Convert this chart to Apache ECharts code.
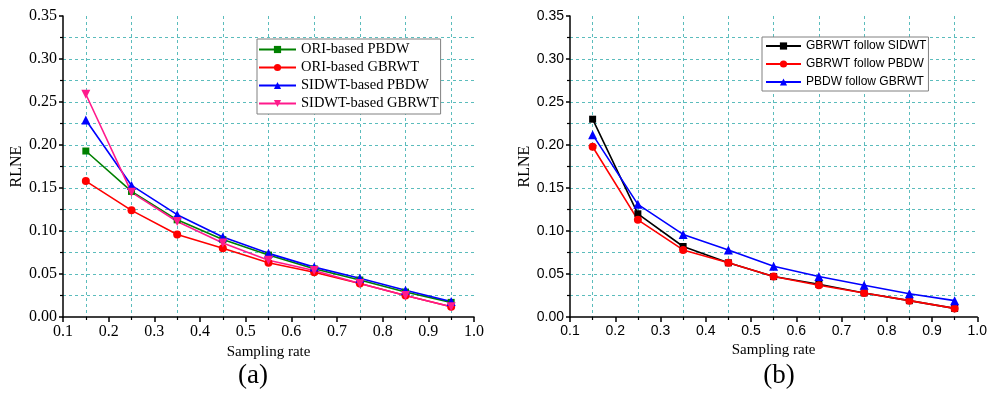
<!DOCTYPE html>
<html style="height: 100%">
  <head>
    <meta charset="utf-8" />
    <title>RLNE vs sampling rate</title>
  </head>
  <body style="height: 100%; margin: 0; background: #fff">
    <div id="container" style="width: 990px; height: 399px"></div>

    <script
      type="text/javascript"
      src="https://fastly.jsdelivr.net/npm/echarts@6/dist/echarts.min.js"
    ></script>

    <script type="text/javascript">
      // sampling rates (x) shared by both panels
      var rates = [0.15, 0.25, 0.35, 0.45, 0.55, 0.65, 0.75, 0.85, 0.95];

      // panel (a)
      var oriPbdw = [0.193, 0.146, 0.113, 0.090, 0.072, 0.056, 0.043, 0.029, 0.017];
      var oriGbrwt = [0.158, 0.124, 0.096, 0.080, 0.063, 0.052, 0.039, 0.025, 0.012];
      var sidwtPbdw = [0.229, 0.153, 0.119, 0.093, 0.074, 0.058, 0.045, 0.031, 0.018];
      var sidwtGbrwt = [0.259, 0.145, 0.111, 0.086, 0.066, 0.054, 0.039, 0.025, 0.012];

      // panel (b)
      var gbFollowSid = [0.230, 0.120, 0.082, 0.063, 0.047, 0.038, 0.028, 0.019, 0.010];
      var gbFollowPb = [0.198, 0.113, 0.078, 0.063, 0.047, 0.037, 0.028, 0.019, 0.010];
      var pbFollowGb = [0.212, 0.131, 0.096, 0.078, 0.059, 0.047, 0.037, 0.027, 0.019];

      var SERIF = "Liberation Serif";
      var SANS = "Liberation Sans";
      var GRIDCOL = "#5bbcbc";

      function pairs(ys) {
        return rates.map(function (x, i) {
          return [x, ys[i]];
        });
      }

      function xAxisFor(idx, font, size) {
        return {
          type: "value",
          gridIndex: idx,
          min: 0.1,
          max: 1.0,
          interval: 0.1,
          name: "Sampling rate",
          nameLocation: "middle",
          nameGap: 25,
          nameTextStyle: { fontFamily: SERIF, fontSize: 15, color: "#000" },
          axisLine: { show: true, onZero: false, lineStyle: { color: "#000", width: 1.5 } },
          axisTick: { show: true, inside: false, length: 5, lineStyle: { color: "#000", width: 1.5 } },
          minorTick: { show: true, splitNumber: 2, length: 3, lineStyle: { color: "#000", width: 1.2 } },
          axisLabel: {
            margin: 7,
            fontFamily: font,
            fontSize: size,
            color: "#000",
            formatter: function (v) {
              return v.toFixed(1);
            },
          },
          splitLine: { show: false },
          minorSplitLine: { show: true, lineStyle: { color: GRIDCOL, type: [3, 3], width: 1 } },
        };
      }

      function yAxisFor(idx, font, size, gap) {
        return {
          type: "value",
          gridIndex: idx,
          min: 0,
          max: 0.35,
          interval: 0.05,
          name: "RLNE",
          nameLocation: "middle",
          nameGap: gap,
          nameTextStyle: { fontFamily: SERIF, fontSize: 16, color: "#000" },
          axisLine: { show: true, onZero: false, lineStyle: { color: "#000", width: 1.5 } },
          axisTick: { show: true, inside: false, length: 4, lineStyle: { color: "#000", width: 1.5 } },
          minorTick: { show: true, splitNumber: 2, length: 3, lineStyle: { color: "#000", width: 1.2 } },
          axisLabel: {
            margin: 6,
            fontFamily: font,
            fontSize: size,
            color: "#000",
            formatter: function (v) {
              return v.toFixed(2);
            },
          },
          splitLine: {
            show: true,
            showMinLine: false,
            showMaxLine: false,
            lineStyle: { color: GRIDCOL, type: [3, 3], width: 1 },
          },
          minorSplitLine: { show: true, lineStyle: { color: GRIDCOL, type: [3, 3], width: 1 } },
        };
      }

      function line(name, ys, color, symbol, size, idx) {
        return {
          name: name,
          type: "line",
          xAxisIndex: idx,
          yAxisIndex: idx,
          data: pairs(ys),
          symbol: symbol,
          symbolSize: size,
          showAllSymbol: true,
          color: color,
          lineStyle: { color: color, width: 1.6 },
          itemStyle: { color: color },
          animation: false,
        };
      }

      var dom = document.getElementById("container");
      var myChart = echarts.init(dom, null, { renderer: "canvas" });

      var option = {
        backgroundColor: "#fff",
        animation: false,
        title: [
          {
            text: "(a)",
            left: 253,
            top: 362,
            textAlign: "center",
            padding: 0,
            textStyle: { fontFamily: SERIF, fontSize: 27, fontWeight: "normal", color: "#000" },
          },
          {
            text: "(b)",
            left: 779,
            top: 362,
            textAlign: "center",
            padding: 0,
            textStyle: { fontFamily: SERIF, fontSize: 27, fontWeight: "normal", color: "#000" },
          },
        ],
        grid: [
          { left: 63, right: 516, top: 16, bottom: 82 },
          { left: 570, right: 11, top: 16, bottom: 82 },
        ],
        xAxis: [xAxisFor(0, SERIF, 16), xAxisFor(1, SANS, 14)],
        yAxis: [yAxisFor(0, SERIF, 16, 38), yAxisFor(1, SANS, 14, 37)],
        legend: [
          {
            orient: "vertical",
            left: 257,
            top: 39,
            padding: [3, 2, 3, 1],
            itemWidth: 37,
            itemHeight: 9,
            itemGap: 3,
            itemTextGap: 3,
            borderColor: "#808080",
            borderWidth: 1,
            backgroundColor: "#fff",
            textStyle: { fontFamily: SERIF, fontSize: 14.5, lineHeight: 14, color: "#000" },
            data: ["ORI-based PBDW", "ORI-based GBRWT", "SIDWT-based PBDW", "SIDWT-based GBRWT"],
          },
          {
            orient: "vertical",
            left: 762,
            top: 37,
            padding: [2, 2, 2, 3],
            itemWidth: 35,
            itemHeight: 9,
            itemGap: 4,
            itemTextGap: 3,
            borderColor: "#808080",
            borderWidth: 1,
            backgroundColor: "#fff",
            textStyle: { fontFamily: SANS, fontSize: 12, lineHeight: 14, color: "#000" },
            data: ["GBRWT follow SIDWT", "GBRWT follow PBDW", "PBDW follow GBRWT"],
          },
        ],
        series: [
          line("ORI-based PBDW", oriPbdw, "#008000", "rect", 7, 0),
          line("ORI-based GBRWT", oriGbrwt, "#ff0000", "circle", 8, 0),
          line("SIDWT-based PBDW", sidwtPbdw, "#0000ff", "triangle", 9, 0),
          line("SIDWT-based GBRWT", sidwtGbrwt, "#ff1a8c", "path://M0,0 L10,0 L5,9 Z", 9, 0),
          line("GBRWT follow SIDWT", gbFollowSid, "#000000", "rect", 7, 1),
          line("GBRWT follow PBDW", gbFollowPb, "#ff0000", "circle", 8, 1),
          line("PBDW follow GBRWT", pbFollowGb, "#0000ff", "triangle", 9, 1),
        ],
      };

      myChart.setOption(option);
      window.addEventListener("resize", myChart.resize);
    </script>
  </body>
</html>
